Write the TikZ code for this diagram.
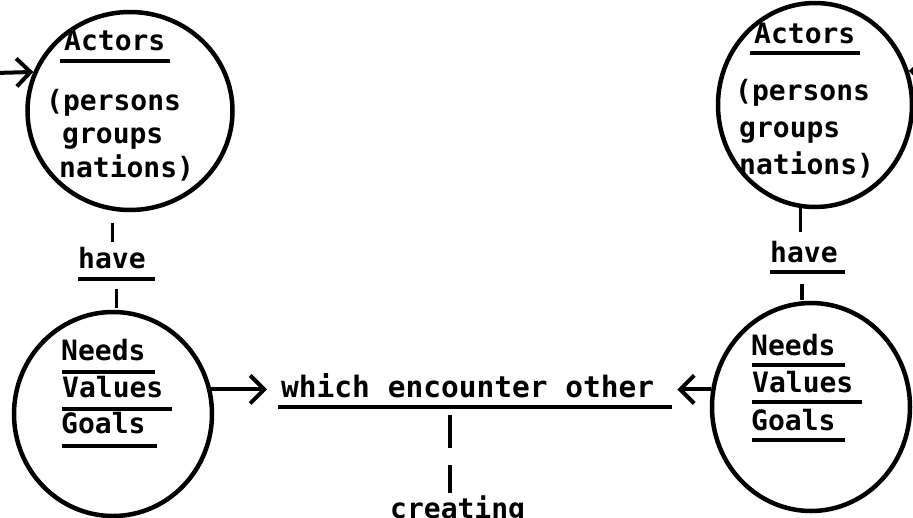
\documentclass[tikz,border=0pt]{standalone}
\usepackage{fontspec}
\newfontfamily\typ{DejaVu Sans Mono}
\usetikzlibrary{shapes.geometric,arrows.meta}

% underline under a word node: node, x offset, drop below baseline, length
\newcommand\ulin[4]{\draw[ulstroke] ([shift={(#2pt,-#3pt)}]#1.base west) -- ++(#4,0);}

\begin{document}
\begin{tikzpicture}[x=1pt,y=-1pt,
  ring/.style={draw, ellipse, line width=4.5pt, inner sep=0pt},
  word/.style={font=\typ\bfseries\fontsize{28pt}{30pt}\selectfont, inner sep=0pt, anchor=base west},
  bigword/.style={word, font=\typ\bfseries\fontsize{29.5pt}{31pt}\selectfont},
  ulstroke/.style={line width=4pt},
  stem/.style={line width=3.5pt},
  arr/.style={line width=4pt, -{Straight Barb[length=14pt,width=28pt]}}
]
\useasboundingbox (0,0) rectangle (913,517);
\clip (0,0) rectangle (913,517);

% the four circles
\node[ring, minimum width=205pt, minimum height=198pt] (actL) at (130,111) {};
\node[ring, minimum width=194pt, minimum height=204pt] (actR) at (815,105) {};
\node[ring, minimum width=198pt, minimum height=204pt] (nvgL) at (113,414) {};
\node[ring, minimum width=198pt, minimum height=208pt] (nvgR) at (811,407) {};

% actors, left
\node[word] (aL) at (64,50) {Actors};
\node[word] (pL) at (46,110) {(persons};
\node[word] (gL) at (62,143) {groups};
\node[word] (nL) at (59,177) {nations)};
\ulin{aL}{-4}{11}{110}

% actors, right
\node[word] (aR) at (754,43) {Actors};
\node[word] (pR) at (735,100) {(persons};
\node[word] (gR) at (739,137) {groups};
\node[word] (nR) at (739,174) {nations)};
\ulin{aR}{-4}{10}{110}

% have
\node[word] (haveL) at (78,268) {have};
\ulin{haveL}{0}{11}{77}
\node[word] (haveR) at (770,262) {have};
\ulin{haveR}{0}{10}{75}

% needs / values / goals, left
\node[word] (neL) at (61,360) {Needs};
\node[word] (vaL) at (62,397) {Values};
\node[word] (goL) at (61,433) {Goals};
\ulin{neL}{1}{12}{93}
\ulin{vaL}{0}{12}{110}
\ulin{goL}{1}{13}{95}

% needs / values / goals, right
\node[word] (neR) at (751,355) {Needs};
\node[word] (vaR) at (752,392) {Values};
\node[word] (goR) at (751,430) {Goals};
\ulin{neR}{1}{10}{93}
\ulin{vaR}{0}{10}{110}
\ulin{goR}{1}{10}{93}

% centre phrase
\node[bigword] (enc) at (281,397) {which encounter other};
\ulin{enc}{-3}{10}{394}
\node[word] (creat) at (390,518) {creating};

% stems between circles and "have"
\draw[stem, shorten <=12pt, shorten >=5pt] (actL.260) -- (actL.260 |- haveL.north);
\draw[stem, shorten <=20pt, shorten >=2pt] (nvgL.88 |- haveL.south) -- (nvgL.88);
\draw[stem, shorten >=9pt] (actR.262) -- (actR.262 |- haveR.north);
\draw[stem, shorten <=21pt, shorten >=1pt] (nvgR.95 |- haveR.south) -- (nvgR.95);

% arrows into the centre phrase
\draw[arr, shorten >=14pt] (nvgL.14) -- (nvgL.14 -| enc.west);
\draw[arr, shorten >=23pt] (nvgR.170) -- (nvgR.170 -| enc.east);

% incoming arrows at the outer edges
\coordinate (inL) at (-5,73);
\coordinate (inR) at (935,72);
\draw[arr] (inL) -- (actL.158);
\draw[arr] (inR) -- (actR.20);

% broken line down to "creating"
\draw[stem, dash pattern=on 33pt off 17pt]
  ([shift={(169pt,-18pt)}]enc.base west) -- ([shift={(60pt,25pt)}]creat.base west);
\end{tikzpicture}
\end{document}
